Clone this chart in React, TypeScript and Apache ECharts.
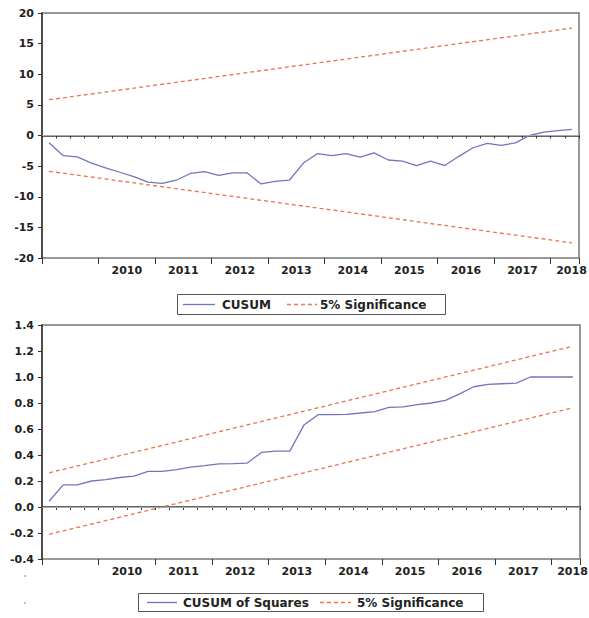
import React, { useEffect, useRef } from "react";
import * as echarts from "echarts";

// ---- data ----
const yearLabels = ["2010", "2011", "2012", "2013", "2014", "2015", "2016", "2017", "2018"];

const cusum = [
  -1.2, -3.3, -3.5, -4.5, -5.3, -6.0, -6.7, -7.6, -7.8, -7.3,
  -6.2, -5.9, -6.5, -6.1, -6.1, -7.9, -7.5, -7.3, -4.5, -2.95,
  -3.3, -2.95, -3.55, -2.85, -4.0, -4.2, -4.9, -4.2, -4.9, -3.4,
  -2.0, -1.3, -1.6, -1.2, 0.0, 0.55, 0.8, 1.0,
];
const cusumUpper = [5.84, 17.53];
const cusumLower = [-5.84, -17.53];

const cusumSq = [
  0.044, 0.17, 0.17, 0.2, 0.21, 0.227, 0.238, 0.274, 0.274, 0.287,
  0.307, 0.318, 0.331, 0.333, 0.338, 0.42, 0.43, 0.43, 0.63, 0.71,
  0.71, 0.713, 0.723, 0.734, 0.767, 0.77, 0.788, 0.8, 0.82, 0.87,
  0.925, 0.943, 0.948, 0.953, 1.0, 1.0, 1.0, 1.0,
];
const sqUpper = [0.263, 1.237];
const sqLower = [-0.21, 0.763];

const BLUE = "#7474BC";
const ORANGE = "#E8764F";
const AXIS = "#333333";
const FONT = "DejaVu Sans";

const N = cusum.length;
const xOf = (i: number) => i + 0.5;
const pts = (arr: number[]) => arr.map((v, i) => [xOf(i), v]);
const ends = (arr: number[]) => [
  [xOf(0), arr[0]],
  [xOf(N - 1), arr[1]],
];

function xAxesFor(gridIndex: number) {
  return [
    {
      gridIndex,
      type: "value",
      position: "bottom",
      min: 0,
      max: 38,
      interval: 1,
      axisLine: { show: true, lineStyle: { color: AXIS, width: 1.5 } },
      axisTick: { show: true, length: 3, lineStyle: { color: AXIS, width: 1 } },
      splitLine: { show: false },
      axisLabel: {
        show: true,
        margin: 7,
        color: "#222",
        fontFamily: FONT,
        fontWeight: "bold",
        fontSize: 11,
        showMinLabel: true,
        showMaxLabel: true,
        rich: {
          e: {
            padding: [0, 15, 0, 0],
            color: "#222",
            fontFamily: FONT,
            fontWeight: "bold",
            fontSize: 11,
          },
        },
        formatter: (v: number) => {
          const r = Math.round(v);
          if (Math.abs(v - r) > 1e-6) return "";
          if (r >= 6 && (r - 6) % 4 === 0) {
            const k = (r - 6) / 4;
            const s = yearLabels[k] ?? "";
            if (k === yearLabels.length - 1) return `{e|${s}}`;
            return s;
          }
          return "";
        },
      },
    },
    {
      gridIndex,
      type: "value",
      position: "bottom",
      min: 0,
      max: 38,
      interval: 4,
      axisLine: { show: false },
      axisTick: { show: true, length: 6, lineStyle: { color: AXIS, width: 1 } },
      splitLine: { show: false },
      axisLabel: { show: false },
    },
  ];
}

function yAxisFor(gridIndex: number, min: number, max: number, interval: number, dec: number) {
  return {
    gridIndex,
    type: "value",
    min,
    max,
    interval,
    axisLine: { show: true, lineStyle: { color: AXIS, width: 1.5 } },
    axisTick: { show: true, length: 4, lineStyle: { color: AXIS } },
    splitLine: { show: false },
    axisLabel: {
      margin: 8,
      color: "#222",
      fontFamily: FONT,
      fontWeight: "bold",
      fontSize: 11,
      formatter: (v: number) => v.toFixed(dec),
    },
  };
}

const zeroLine = {
  silent: true,
  symbol: "none",
  label: { show: false },
  lineStyle: { color: "#AAAAAA", width: 1.2, type: "solid" },
  data: [{ yAxis: 0 }],
};

function lineSeries(name: string, data: number[][], xi: number, yi: number, color: string, dashed: boolean, extra: any = {}) {
  return {
    name,
    type: "line",
    xAxisIndex: xi,
    yAxisIndex: yi,
    data,
    showSymbol: false,
    symbol: "none",
    smooth: false,
    lineStyle: { color, width: 1.3, type: dashed ? [4, 3] : "solid" },
    z: dashed ? 3 : 4,
    ...extra,
  };
}

const legendFont = `bold 12px "${FONT}"`;

const graphics = [
  // top legend
  { type: "rect", shape: { x: 177.5, y: 294.5, width: 268, height: 20 }, style: { fill: "#fff", stroke: "#555", lineWidth: 1 } },
  { type: "line", shape: { x1: 183, y1: 304.5, x2: 215, y2: 304.5 }, style: { stroke: BLUE, lineWidth: 1.3 } },
  { type: "text", x: 222, y: 304.5, style: { text: "CUSUM", font: legendFont, fill: "#222", verticalAlign: "middle", align: "left" } },
  { type: "line", shape: { x1: 287, y1: 304.5, x2: 317, y2: 304.5 }, style: { stroke: ORANGE, lineWidth: 1.3, lineDash: [4, 3] } },
  { type: "text", x: 320, y: 304.5, style: { text: "5% Significance", font: legendFont, fill: "#222", verticalAlign: "middle", align: "left" } },
  // bottom legend
  { type: "rect", shape: { x: 138.5, y: 593.5, width: 345, height: 18 }, style: { fill: "#fff", stroke: "#555", lineWidth: 1 } },
  { type: "line", shape: { x1: 147, y1: 602.5, x2: 177, y2: 602.5 }, style: { stroke: BLUE, lineWidth: 1.3 } },
  { type: "text", x: 183, y: 602.5, style: { text: "CUSUM of Squares", font: legendFont, fill: "#222", verticalAlign: "middle", align: "left" } },
  { type: "line", shape: { x1: 320, y1: 602.5, x2: 351, y2: 602.5 }, style: { stroke: ORANGE, lineWidth: 1.3, lineDash: [4, 3] } },
  { type: "text", x: 357, y: 602.5, style: { text: "5% Significance", font: legendFont, fill: "#222", verticalAlign: "middle", align: "left" } },
  // stray marks
  { type: "circle", shape: { cx: 25, cy: 576, r: 0.8 }, style: { fill: "#999" } },
  { type: "circle", shape: { cx: 25, cy: 603, r: 0.8 }, style: { fill: "#999" } },
];

export default function App() {
  const ref = useRef<HTMLDivElement>(null);
  useEffect(() => {
    if (!ref.current) return;
    const chart = echarts.init(ref.current, undefined, { renderer: "svg" });
    chart.setOption({
      animation: false,
      backgroundColor: "#fff",
      grid: [
        { left: 42, top: 13, width: 537, height: 245, show: true, borderColor: "#777", borderWidth: 1.5, backgroundColor: "transparent", outerBoundsMode: "none", containLabel: false },
        { left: 42, top: 325, width: 538, height: 234, show: true, borderColor: "#777", borderWidth: 1.5, backgroundColor: "transparent", outerBoundsMode: "none", containLabel: false },
      ],
      xAxis: [...xAxesFor(0), ...xAxesFor(1)],
      yAxis: [yAxisFor(0, -20, 20, 5, 0), yAxisFor(1, -0.4, 1.4, 0.2, 1)],
      series: [
        lineSeries("CUSUM", pts(cusum), 0, 0, BLUE, false, { markLine: zeroLine }),
        lineSeries("5% Significance", ends(cusumUpper), 0, 0, ORANGE, true),
        lineSeries("5% Significance lower", ends(cusumLower), 0, 0, ORANGE, true),
        lineSeries("CUSUM of Squares", pts(cusumSq), 2, 1, BLUE, false, { markLine: zeroLine }),
        lineSeries("5% Significance (sq)", ends(sqUpper), 2, 1, ORANGE, true),
        lineSeries("5% Significance (sq) lower", ends(sqLower), 2, 1, ORANGE, true),
      ],
      graphic: graphics,
    });
    return () => chart.dispose();
  }, []);
  return (
    <div
      ref={ref}
      style={{ position: "absolute", left: 0, top: 0, width: 589, height: 618, background: "#fff" }}
    />
  );
}
